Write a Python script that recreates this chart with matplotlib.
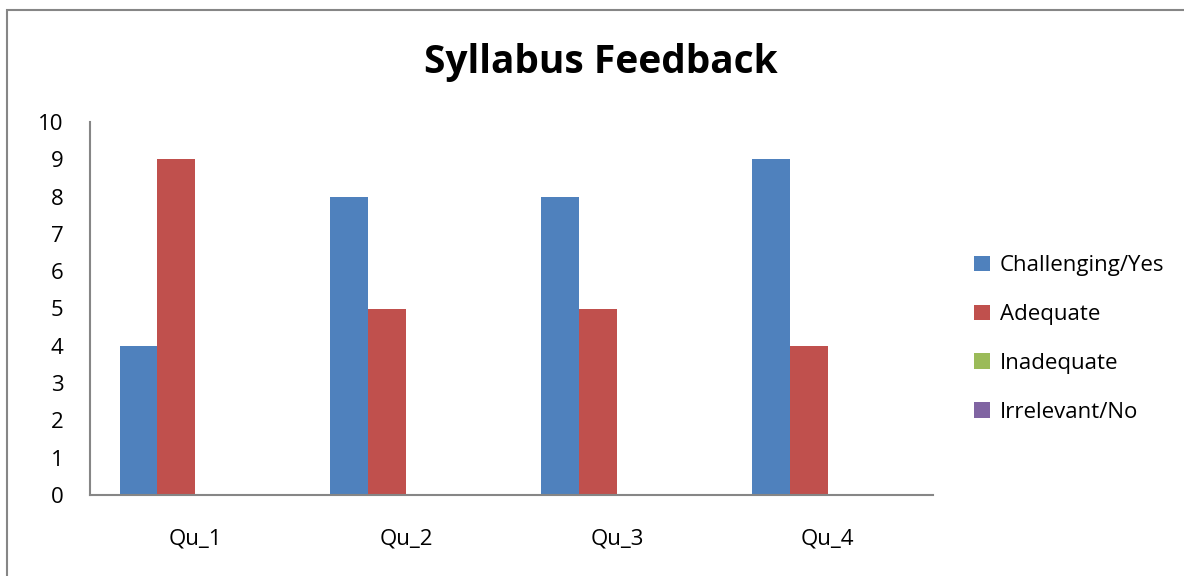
import numpy as np
import matplotlib.pyplot as plt
from matplotlib.patches import Rectangle

categories = ['Qu_1', 'Qu_2', 'Qu_3', 'Qu_4']
series = ['Challenging/Yes', 'Adequate', 'Inadequate', 'Irrelevant/No']
challenging = [4, 8, 8, 9]
adequate = [9, 5, 5, 4]
inadequate = [0, 0, 0, 0]
irrelevant = [0, 0, 0, 0]
colors = ['#4F81BD', '#C0504D', '#9BBB59', '#8064A2']

plt.rcParams['font.family'] = ['Open Sans', 'DejaVu Sans']

fig = plt.figure(figsize=(11.84, 5.76), dpi=100)
ax = fig.add_axes([90/1184, 81/576, 843/1184, 373/576])

x = np.arange(len(categories))
w = 0.18
values = [challenging, adequate, inadequate, irrelevant]
for i, (name, vals) in enumerate(zip(series, values)):
    ax.bar(x + (i - 1.5) * w, vals, w, color=colors[i], label=name)

ax.set_xlim(-0.5, len(categories) - 0.5)
ax.set_ylim(0, 10)
ax.set_yticks(range(0, 11))
ax.set_xticks(x)
ax.set_xticklabels(categories)
ax.tick_params(axis='both', length=0, labelsize=16)
ax.tick_params(axis='y', pad=19)
ax.tick_params(axis='x', pad=24)
for s in ['top', 'right']:
    ax.spines[s].set_visible(False)
for s in ['left', 'bottom']:
    ax.spines[s].set_color('#868686')
    ax.spines[s].set_linewidth(1.5)

fig.text(601/1184, 1 - 62/576, 'Syllabus Feedback', ha='center', va='center',
         fontsize=28, fontweight='bold')

leg = ax.legend(loc='center left', bbox_to_anchor=(954/1184, 1 - 339/576),
                bbox_transform=fig.transFigure, frameon=False, fontsize=16,
                handlelength=0.7, handleheight=0.7, handletextpad=0.45,
                labelspacing=1.25)

# outer chart border, cut off on the right and bottom
fig.patches.append(Rectangle((7/1184, -0.1), 1.2, 1 - 10/576 + 0.1,
                             transform=fig.transFigure, fill=False,
                             edgecolor='#868686', linewidth=1.5))

fig.savefig('out.png', dpi=100)
